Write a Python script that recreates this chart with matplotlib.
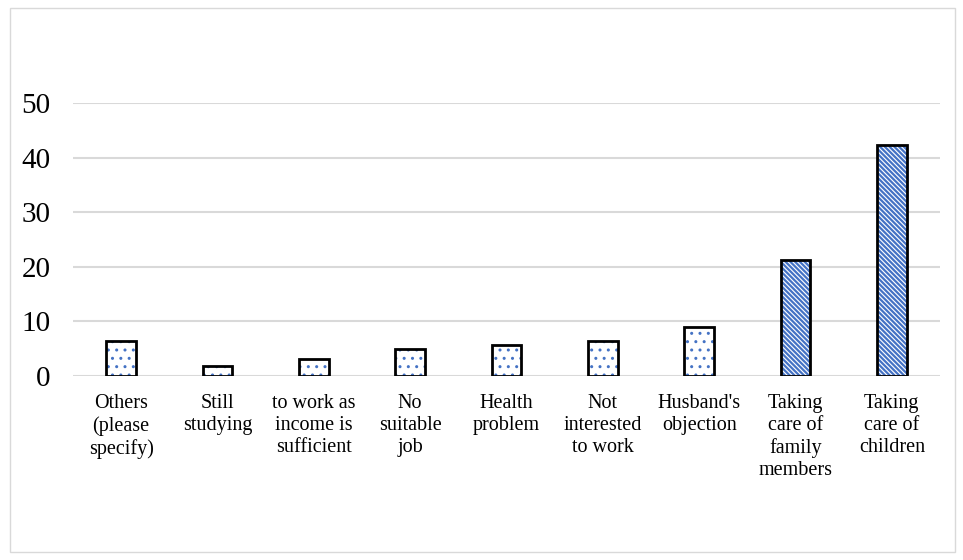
import matplotlib.pyplot as plt
import matplotlib.patches as mpatches
import numpy as np

categories = ["Others\n(please\nspecify)", "Still\nstudying", "to work as\nincome is\nsufficient",
              "No\nsuitable\njob", "Health\nproblem", "Not\ninterested\nto work",
              "Husband's\nobjection", "Taking\ncare of\nfamily\nmembers", "Taking\ncare of\nchildren"]
values = [6.4, 1.8, 3.1, 4.9, 5.7, 6.4, 9.0, 21.2, 42.3]
hatches = ["..", "..", "..", "..", "..", "..", "..", "\\\\\\\\\\\\\\", "\\\\\\\\\\\\\\"]

plt.rcParams['font.family'] = ['Liberation Serif', 'DejaVu Serif']

fig = plt.figure(figsize=(9.63, 5.60), dpi=100)
ax = fig.add_axes([73/963, 1-376/560, (940-73)/963, (376-103)/560])

x = np.arange(len(categories))
for xi, v, h in zip(x, values, hatches):
    lw = 1.0 if h.startswith('.') else 1.6
    with plt.rc_context({'hatch.linewidth': lw}):
        ax.bar(xi, v, width=0.31, color='white', edgecolor='#4472C4', hatch=h, linewidth=0, zorder=3)
    ax.bar(xi, v, width=0.31, fill=False, edgecolor='black', linewidth=2, zorder=4)

ax.set_xlim(-0.5, len(categories) - 0.5)
ax.set_ylim(0, 50)
ax.set_yticks([0, 10, 20, 30, 40, 50])
ax.tick_params(axis='y', labelsize=21, length=0, pad=16)
ax.set_xticks(x)
ax.set_xticklabels(categories, fontsize=14.5, linespacing=1.22)
ax.tick_params(axis='x', length=0, pad=13)
ax.yaxis.grid(True, color='#D9D9D9', linewidth=1.5, zorder=0)
for s in ax.spines.values():
    s.set_visible(False)

fig.patches.append(mpatches.Rectangle((10/963, 8/560), 945/963, 544/560, transform=fig.transFigure,
                                      fill=False, edgecolor='#D9D9D9', linewidth=1))

fig.savefig("out.png", dpi=100)
